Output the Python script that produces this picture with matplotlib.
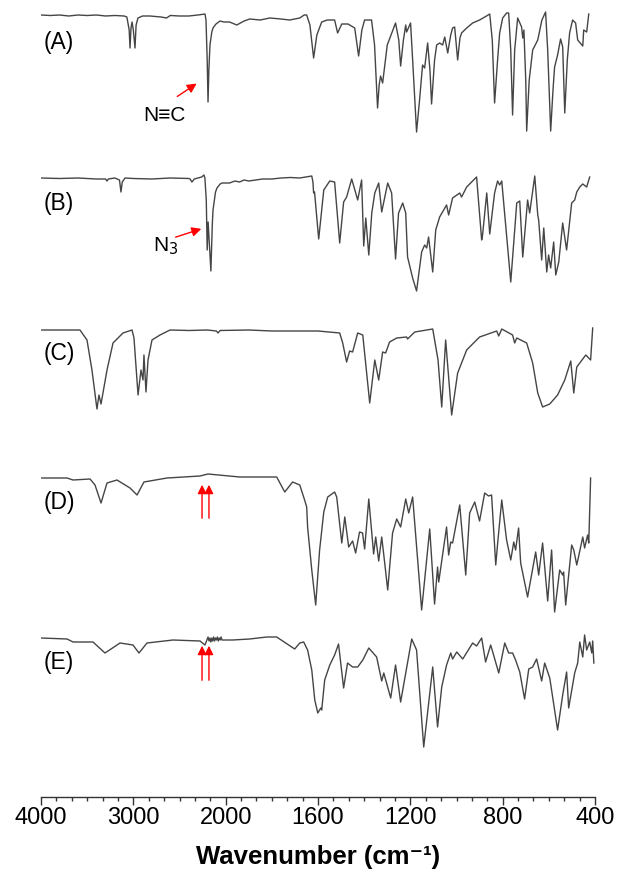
import matplotlib
matplotlib.use("Agg")
import matplotlib.pyplot as plt
import numpy as np

plt.rcParams['font.family'] = ['Liberation Sans', 'DejaVu Sans']

# IR spectra, stacked; values in a.u. (offset included, larger = more absorption)
wn_A = [4000, 3900, 3800, 3700, 3600, 3500, 3400, 3300, 3200, 3100, 3070, 3045, 3036, 3025, 3014,
        3000, 2982, 2970, 2950, 2900, 2820, 2700, 2640, 2600, 2500, 2400, 2300, 2224, 2213, 2200,
        2191, 2182, 2170, 2150, 2137, 2105, 2061, 2020, 1983, 1952, 1920, 1896, 1850, 1809, 1760,
        1723, 1700, 1679, 1660, 1649, 1635, 1619, 1605, 1584, 1560, 1528, 1515, 1497, 1470, 1441,
        1424, 1410, 1398, 1368, 1355, 1342, 1335, 1329, 1320, 1300, 1264, 1250, 1242, 1230, 1220,
        1216, 1199, 1190, 1173, 1160, 1147, 1138, 1125, 1115, 1108, 1095, 1086, 1073, 1060, 1051,
        1038, 1025, 1017, 1008, 995, 985, 978, 956, 930, 900, 870, 856, 845, 835, 822, 813, 800,
        783, 774, 765, 757, 748, 735, 718, 713, 708, 700, 696, 685, 670, 648, 630, 614, 605, 592,
        582, 575, 562, 549, 540, 531, 520, 510, 497, 484, 475, 453, 449, 436, 427]
t_A = [15, 15.5, 15, 16, 15, 15.5, 15, 16, 15.5, 16, 17, 30, 48, 28, 22,
       30, 48, 25, 18, 16, 16, 17, 18, 15.5, 16, 16, 15, 14, 20, 60,
       102, 70, 45, 32, 28, 24, 21, 22, 22, 25, 21, 19, 20, 18, 19,
       20, 19, 18, 15, 15, 25, 58, 35, 22, 20, 20, 33, 24, 24, 28,
       56, 30, 20, 20, 45, 108, 85, 76, 83, 45, 23, 40, 66, 40, 25,
       32, 23, 60, 132, 100, 65, 68, 43, 70, 104, 60, 45, 43, 45, 37,
       53, 35, 28, 27, 60, 38, 33, 28, 23, 20, 16, 14, 40, 103, 60, 33, 18,
       13, 13, 50, 115, 50, 18, 27, 38, 30, 80, 131, 80, 50, 40, 20, 12, 50, 131,
       90, 67, 55, 39, 47, 113, 60, 33, 20, 23, 40, 46, 30, 32, 14]

wn_B = [4000, 3800, 3600, 3400, 3300, 3285, 3270, 3200, 3150, 3134, 3120, 3090, 3000, 2800, 2600,
        2400, 2386, 2365, 2340, 2260, 2235, 2225, 2210, 2200, 2190, 2160, 2145, 2137, 2110, 2094,
        2060, 2040, 2020, 1983, 1960, 1940, 1920, 1900, 1870, 1840, 1800, 1760, 1720, 1679, 1627,
        1622, 1619, 1615, 1597, 1575, 1549, 1528, 1506, 1489, 1476, 1454, 1428, 1411, 1402, 1393,
        1380, 1367, 1354, 1337, 1324, 1298, 1281, 1264, 1251, 1233, 1220, 1212, 1190, 1173, 1151,
        1138, 1129, 1121, 1103, 1090, 1073, 1043, 1034, 1017, 986, 978, 956, 913, 891, 887,
        869, 856, 835, 822, 813, 804, 765, 739, 726, 713, 692, 683, 661, 648, 644,
        631, 622, 609, 601, 592, 579, 570, 557, 540, 523, 501, 488, 479, 466, 453,
        436, 423]
t_B = [178, 178.5, 178, 179, 179, 181, 179, 178, 180, 192, 182, 178, 178.5, 179, 178,
       178.5, 179, 182, 179, 177, 175, 178, 200, 250, 222, 271, 225, 210, 192, 188,
       184, 183, 183, 183, 181, 182, 180, 181, 180, 179, 179, 178, 177.5, 178, 176,
       182, 193, 192, 239, 190, 181, 182, 243, 202, 197, 179, 200, 180, 246, 218,
       255, 213, 193, 183, 212, 183, 193, 259, 213, 203, 213, 257, 278, 291, 252,
       245, 248, 237, 272, 230, 217, 205, 215, 198, 193, 197, 187, 177, 240, 235,
       193, 234, 193, 181, 185, 181, 282, 203, 201, 257, 200, 213, 176, 215, 220,
       260, 228, 272, 255, 268, 242, 275, 262, 223, 250, 203, 200, 192, 187, 184,
       187, 177]

wn_C = [4000, 3578, 3502, 3448, 3394, 3372, 3350, 3285, 3220, 3112, 3014, 2993, 2949, 2917, 2895,
        2885, 2863, 2841, 2798, 2711, 2603, 2400, 2200, 2100, 2083, 2060, 1900, 1800, 1700, 1600,
        1506, 1493, 1476, 1463, 1450, 1428, 1406, 1376, 1354, 1337, 1320, 1307, 1290, 1259, 1216,
        1212, 1181, 1103, 1080, 1064, 1047, 1021, 995, 956, 900, 826, 817, 804, 757, 748,
        739, 696, 670, 648, 627, 596, 562, 531, 505, 492, 479, 466, 440, 419, 410]
t_C = [330, 330, 340, 370, 409, 395, 404, 370, 343, 333, 330, 338, 395, 370, 380,
       355, 392, 360, 340, 335, 330, 330.5, 330, 331, 333, 330.5, 330, 331, 331, 331,
       333, 343, 362, 351, 352, 333, 335, 403, 360, 380, 352, 353, 342, 338, 337,
       339, 332, 329, 360, 407, 340, 415, 373, 350, 337, 331, 336, 329, 335, 343,
       338, 343, 363, 393, 407, 404, 395, 380, 361, 393, 367, 363, 355, 360, 328]

wn_D = [4000, 3718, 3653, 3469, 3415, 3350, 3285, 3177, 3036, 2960, 2885, 2635, 2278, 2191, 1939,
        1779, 1744, 1710, 1679, 1658, 1649, 1645, 1627, 1610, 1593, 1575, 1558, 1528, 1519, 1497,
        1484, 1467, 1450, 1437, 1420, 1407, 1398, 1380, 1359, 1350, 1337, 1324, 1311, 1298, 1277,
        1259, 1242, 1220, 1207, 1190, 1151, 1116, 1095, 1082, 1077, 1043, 1034, 1025, 1017, 986,
        960, 943, 921, 900, 878, 861, 848, 830, 822, 804, 783, 765, 752, 744, 731,
        722, 692, 657, 644, 627, 605, 588, 575, 553, 540, 536, 527, 501, 492, 479,
        453, 445, 432, 427, 419]
t_D = [478, 478, 480, 479, 485, 503, 483, 480, 488, 495, 482, 478, 476, 474, 477,
       477, 492, 482, 485, 500, 507, 527, 570, 605, 550, 512, 497, 492, 497, 543,
       517, 547, 541, 553, 532, 533, 549, 499, 554, 537, 561, 537, 563, 590, 533,
       519, 527, 499, 513, 497, 610, 529, 604, 567, 582, 527, 555, 542, 543, 505,
       575, 513, 502, 521, 493, 496, 495, 565, 544, 500, 540, 560, 542, 550, 528,
       563, 597, 552, 575, 543, 601, 550, 612, 570, 575, 572, 605, 545, 550, 565,
       537, 548, 535, 543, 478]

wn_E = [4000, 3718, 3653, 3437, 3307, 3144, 3004, 2939, 2852, 2570, 2278, 2224, 2191, 2180, 2170,
        2160, 2150, 2140, 2130, 2120, 2110, 2100, 2090, 2080, 2070, 2060, 2050, 2040, 1970, 1896,
        1822, 1779, 1701, 1679, 1662, 1645, 1627, 1614, 1601, 1588, 1584, 1571, 1549, 1528, 1511,
        1489, 1472, 1450, 1428, 1406, 1380, 1346, 1324, 1315, 1285, 1264, 1242, 1194, 1173, 1142,
        1103, 1082, 1064, 1043, 1025, 1017, 999, 973, 930, 913, 891, 874, 852, 843, 817,
        791, 774, 757, 744, 726, 705, 687, 670, 653, 631, 618, 596, 575, 562, 540,
        523, 514, 488, 475, 466, 453, 445, 436, 423, 414, 410, 405]
t_E = [638, 639, 642, 642, 653, 643, 645, 653, 643, 640, 641, 645, 637, 641, 638,
       642, 638, 641, 637, 641, 638, 640, 637, 641, 638, 640, 637, 640, 640, 639,
       637, 637, 649, 643, 642, 650, 670, 700, 713, 708, 710, 680, 665, 655, 644,
       688, 663, 667, 667, 660, 648, 657, 681, 673, 698, 665, 702, 639, 650, 747,
       667, 727, 687, 665, 653, 659, 652, 659, 643, 646, 638, 662, 645, 652, 673,
       643, 653, 653, 660, 672, 699, 669, 667, 659, 681, 663, 678, 710, 730, 695,
       672, 708, 673, 663, 642, 657, 635, 650, 642, 653, 641, 663]

spectra = [(wn_A, t_A), (wn_B, t_B), (wn_C, t_C), (wn_D, t_D), (wn_E, t_E)]
panel_labels = ['(A)', '(B)', '(C)', '(D)', '(E)']
label_y = [42, 203, 353, 502, 662]

major_ticks = [4000, 3000, 2000, 1600, 1200, 800, 400]


# axis is linear in 1000 cm-1 steps above 2000 and 400 cm-1 steps below
def fwd(w):
    w = np.asarray(w, dtype=float)
    return np.where(w >= 2000, 4 + (w - 2000) / 1000.0, 4 - (2000 - w) / 400.0)


def inv(p):
    p = np.asarray(p, dtype=float)
    return np.where(p >= 4, 2000 + 1000.0 * (p - 4), 2000 - 400.0 * (4 - p))


fig = plt.figure(figsize=(6.17, 8.72), dpi=100)
ax = fig.add_axes([41 / 617, 75 / 872, 554 / 617, 797 / 872])
ax.set_xscale('function', functions=(fwd, inv))

for wn, t in spectra:
    ax.plot(wn, t, color='#454545', lw=1.0)

ax.set_xlim(4000, 400)
ax.set_ylim(797, 0)

for lab, yy in zip(panel_labels, label_y):
    ax.text(3975, yy, lab, fontsize=16.5, ha='left', va='center')

# annotations
ax.annotate('', xy=(2289, 82), xytext=(2549, 98),
            arrowprops=dict(arrowstyle='-|>', color='red', lw=1, mutation_scale=14))
ax.text(2668, 115, 'N\u2261C', fontsize=15, ha='center', va='center')
ax.annotate('', xy=(2235, 228), xytext=(2571, 238),
            arrowprops=dict(arrowstyle='-|>', color='red', lw=1, mutation_scale=14))
ax.text(2646, 246, 'N$_3$', fontsize=15, ha='center', va='center')

for ytip, ybase in [(482, 521), (643, 683)]:
    for wx in [2256, 2181]:
        ax.annotate('', xy=(wx, ytip), xytext=(wx, ybase),
                    arrowprops=dict(arrowstyle='-|>', color='red', lw=1, mutation_scale=13))

for s in ['top', 'right', 'left']:
    ax.spines[s].set_visible(False)
ax.spines['bottom'].set_color('#333333')
ax.spines['bottom'].set_linewidth(1.0)

ax.set_yticks([])
ax.set_xticks(major_ticks)
ax.set_xticklabels([str(v) for v in major_ticks])
minor = []
for a, b in zip(major_ticks[:-1], major_ticks[1:]):
    minor.extend(np.linspace(a, b, 7)[1:-1])
ax.set_xticks(minor, minor=True)
ax.tick_params(axis='x', which='major', direction='out', length=6, width=1,
               color='#333333', labelsize=17, pad=1)
ax.tick_params(axis='x', which='minor', direction='out', length=3, width=1, color='#333333')

ax.set_xlabel('Wavenumber (cm\u207b\u00b9)', fontsize=18.5, fontweight='bold', labelpad=12)

fig.savefig('out.png', dpi=100)
